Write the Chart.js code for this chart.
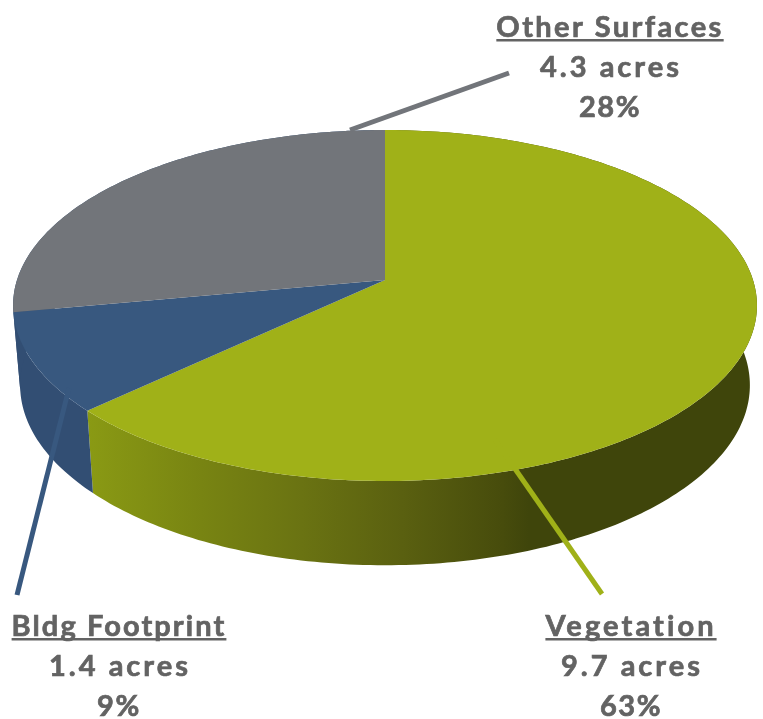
<!DOCTYPE html>
<html>
<head>
<meta charset="utf-8">
<title>Site surfaces</title>
<script src="https://cdn.jsdelivr.net/npm/chart.js@4/dist/chart.umd.min.js"></script>
<style>
  html, body { margin: 0; padding: 0; background: #fff; }
  canvas { display: block; }
</style>
</head>
<body>
<canvas id="pie-chart" width="763" height="719"></canvas>
<script>
const CATEGORIES = ['Vegetation', 'Bldg Footprint', 'Other Surfaces'];
const ACRES      = [9.7, 1.4, 4.3];
const PERCENTS   = [63, 9, 28];

const TOP_COLORS = ['#a0b118', '#38587f', '#72757a'];
const TEXT_COLOR = '#636363';
const FONT_NAME  = 'Lato, "Open Sans", sans-serif';

// label block centre / first baseline for each category
const LABEL_SPOTS = [
  { x: 631, y: 636, spacing: 3.1 },
  { x: 119, y: 636, spacing: 2.1 },
  { x: 610, y: 37,  spacing: 2.4 },
];
const LEADERS = [
  { from: [495, 440], to: [602, 594] },
  { from: [69, 388],  to: [17, 595] },
  { from: [350, 130], to: [509, 73] },
];

// perspective of the tilted disc
const APEX_X = 385, APEX_Y = 280;
const PERSP  = 0.1453, RX = 368, RY = 171.8;
const BASE_Y = 359, BASE_SX = 0.981, BASE_SY = 1.026;

function project(angle, base) {
  const u = Math.cos(angle), v = Math.sin(angle);
  const w = 1 - PERSP * v;
  if (base) {
    return [APEX_X + BASE_SX * RX * u / w, BASE_Y + BASE_SY * RY * v / w];
  }
  return [APEX_X + RX * u / w, APEX_Y + RY * v / w];
}

function wallFill(ctx, index) {
  if (index !== 0) return '#324e73';
  const g = ctx.createLinearGradient(87, 0, 757, 0);
  g.addColorStop(0,    '#8a9a14');
  g.addColorStop(0.17, '#788412');
  g.addColorStop(0.32, '#6a7312');
  g.addColorStop(0.47, '#5a6010');
  g.addColorStop(0.62, '#474c0c');
  g.addColorStop(0.66, '#3f450b');
  g.addColorStop(1,    '#3f450b');
  return g;
}

function arcSteps(arc) {
  const steps = Math.max(2, Math.ceil((arc.endAngle - arc.startAngle) * 60));
  const out = [];
  for (let i = 0; i <= steps; i++) {
    out.push(arc.startAngle + (arc.endAngle - arc.startAngle) * i / steps);
  }
  return out;
}

const tiltedPie = {
  id: 'tiltedPie',
  beforeDatasetDraw(chart) {
    const ctx  = chart.ctx;
    const arcs = chart.getDatasetMeta(0).data;

    // side walls first, the top faces cover what is behind
    arcs.forEach((arc, i) => {
      const angles = arcSteps(arc);
      ctx.beginPath();
      angles.forEach((a, n) => {
        const p = project(a, false);
        n === 0 ? ctx.moveTo(p[0], p[1]) : ctx.lineTo(p[0], p[1]);
      });
      angles.slice().reverse().forEach((a) => {
        const p = project(a, true);
        ctx.lineTo(p[0], p[1]);
      });
      ctx.closePath();
      ctx.fillStyle = wallFill(ctx, i);
      ctx.fill('nonzero');
    });

    arcs.forEach((arc, i) => {
      ctx.beginPath();
      ctx.moveTo(APEX_X, APEX_Y);
      arcSteps(arc).forEach((a) => {
        const p = project(a, false);
        ctx.lineTo(p[0], p[1]);
      });
      ctx.closePath();
      ctx.fillStyle = TOP_COLORS[i];
      ctx.fill();
    });
    return false;
  },
  afterDraw(chart) {
    const ctx = chart.ctx;

    LEADERS.forEach((l, i) => {
      ctx.beginPath();
      ctx.moveTo(l.from[0], l.from[1]);
      ctx.lineTo(l.to[0], l.to[1]);
      ctx.lineWidth = 5;
      ctx.strokeStyle = TOP_COLORS[i];
      ctx.stroke();
    });

    ctx.fillStyle = TEXT_COLOR;
    ctx.strokeStyle = TEXT_COLOR;
    ctx.lineWidth = 0.7;
    ctx.textAlign = 'center';
    ctx.textBaseline = 'alphabetic';
    ctx.font = 'bold 29px ' + FONT_NAME;

    const put = (text, x, y) => {
      ctx.fillText(text, x, y);
      ctx.strokeText(text, x, y);
    };
    CATEGORIES.forEach((name, i) => {
      const s = LABEL_SPOTS[i];
      ctx.letterSpacing = s.spacing + 'px';
      put(name, s.x, s.y);
      const w = ctx.measureText(name).width;
      ctx.fillRect(s.x - w / 2, s.y + 2, w, 2.5);
      ctx.letterSpacing = '3px';
      put(ACRES[i].toFixed(1) + ' acres', s.x + 1, s.y + 40);
      ctx.letterSpacing = '1.6px';
      put(PERCENTS[i] + '%', s.x, s.y + 80);
    });
  },
};

new Chart(document.getElementById('pie-chart').getContext('2d'), {
  type: 'pie',
  data: {
    labels: CATEGORIES,
    datasets: [{ data: ACRES, backgroundColor: TOP_COLORS, borderWidth: 0 }],
  },
  options: {
    responsive: false,
    animation: false,
    plugins: { legend: { display: false }, tooltip: { enabled: false } },
  },
  plugins: [tiltedPie],
});
</script>
</body>
</html>
